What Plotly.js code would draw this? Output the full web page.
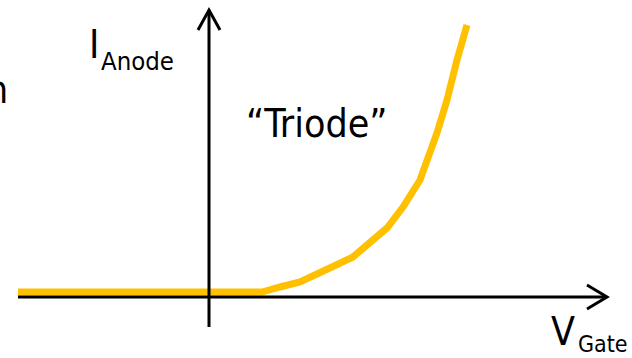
<!DOCTYPE html>
<html><head><meta charset="utf-8">
<script src="https://cdn.plot.ly/plotly-3.0.1.min.js"></script>
<style>html,body{margin:0;padding:0;background:#fff;}#chart{width:632px;height:358px;}</style>
</head><body><div id="chart"></div>
<script>
// Gate voltage (arbitrary units) and anode current (arbitrary units)
const vGate = [-3.82, 1.06, 1.42, 1.82, 2.16, 2.88, 3.16, 3.56, 3.88, 4.22, 4.56, 4.76, 4.96, 5.16];
const iAnode = [0.1, 0.1, 0.2, 0.3, 0.46, 0.8, 1.04, 1.38, 1.8, 2.34, 3.28, 3.94, 4.74, 5.44];
const xLabel = "V", xSub = "Gate";
const yLabel = "I", ySub = "Anode";
const regionLabel = "\u201cTriode\u201d";

const FONT = "'DejaVu Sans Condensed', 'DejaVu Sans', sans-serif";
const axisStyle = {color: "#000", width: 3};
const xEnd = 7.96, yEnd = 5.74, yStart = -0.6, xStart = -3.82;

const shapes = [
  {type: "line", xref: "x", yref: "y", x0: xStart, y0: 0, x1: xEnd, y1: 0, line: axisStyle},
  {type: "line", xref: "x", yref: "y", x0: 0, y0: yStart, x1: 0, y1: yEnd, line: axisStyle},
  {type: "path", xref: "x", yref: "y", path: `M ${xEnd-0.4} 0.24 L ${xEnd} 0 L ${xEnd-0.4} -0.24`, line: axisStyle},
  {type: "path", xref: "x", yref: "y", path: `M -0.22 ${yEnd-0.4} L 0 ${yEnd} L 0.22 ${yEnd-0.4}`, line: axisStyle}
];

const ann = (text, x, y, size, xanchor) => ({
  text, x, y, xref: "x", yref: "y", showarrow: false, xanchor: xanchor || "left", yanchor: "middle",
  font: {family: FONT, size, color: "#000"}
});

const annotations = [
  ann(yLabel, -2.44, 5.06, 39),
  ann(ySub, -2.2, 4.72, 25.5),
  ann(regionLabel, 2.16, 3.48, 39, "center"),
  ann(xLabel, 6.8, -0.68, 39),
  ann(xSub, 7.34, -0.93, 23),
  ann("n", -3.98, 4.16, 39, "right")
];

Plotly.newPlot("chart", [{
  x: vGate, y: iAnode, type: "scatter", mode: "lines",
  line: {color: "#FFC000", width: 7}, hoverinfo: "skip"
}], {
  width: 632, height: 358,
  margin: {l: 0, r: 0, t: 0, b: 0},
  paper_bgcolor: "#fff", plot_bgcolor: "#fff",
  showlegend: false,
  xaxis: {range: [-4.18, 8.46], visible: false, fixedrange: true},
  yaxis: {range: [-1.22, 5.94], visible: false, fixedrange: true},
  shapes, annotations
}, {staticPlot: true});
</script></body></html>
